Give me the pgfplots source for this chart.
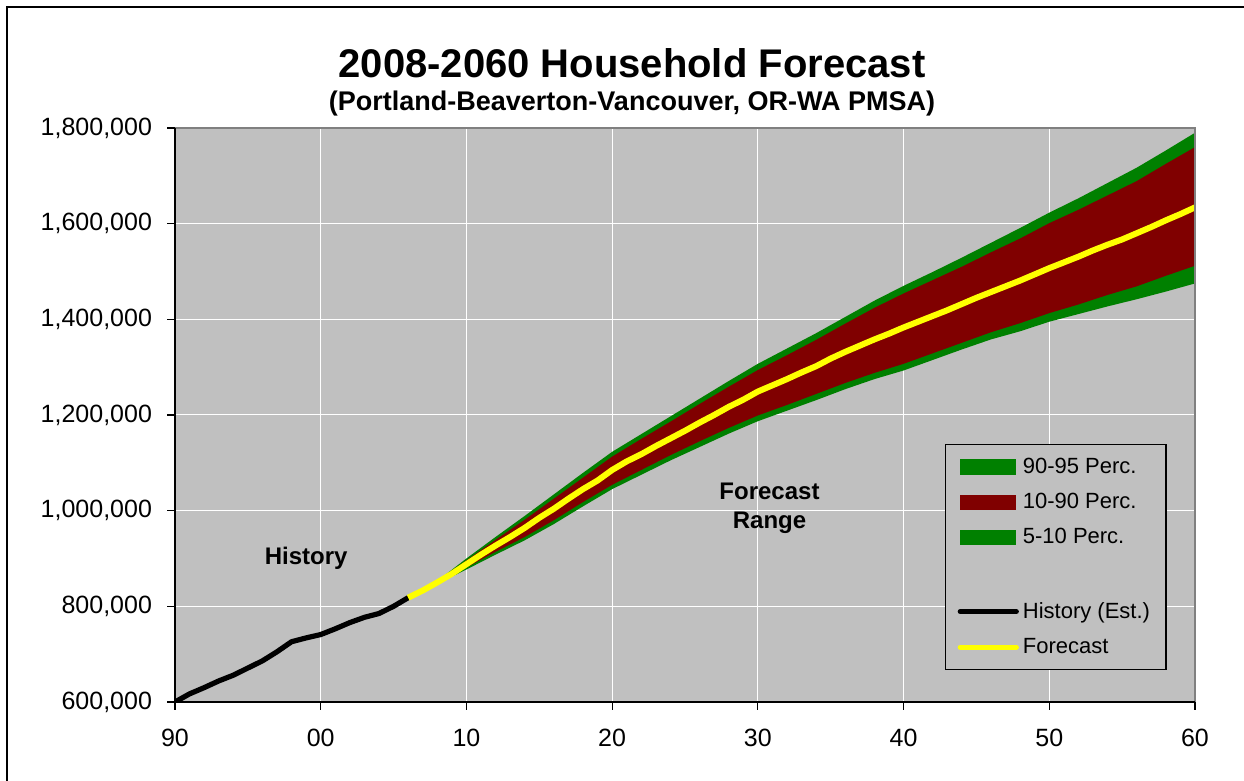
\documentclass[border=0pt]{standalone}
\usepackage{fontspec}
\setmainfont{Liberation Sans}
\usepackage{pgfplots}
\pgfplotsset{compat=1.18}
\usepackage{pgfplotstable}
\usepgfplotslibrary{fillbetween}
\definecolor{bggray}{RGB}{192,192,192}
\definecolor{bandgreen}{RGB}{0,128,0}
\definecolor{bandred}{RGB}{128,0,0}
\definecolor{fyellow}{RGB}{255,255,0}
\definecolor{framegray}{RGB}{128,128,128}

% values in thousands of households
\pgfplotstableread{
year u95 u90 l10 l5
2006 818 818 818 818
2008 853 852 848 847
2010 900 896 881 877
2012 945 939 914 908
2014 989 981 945 938
2016 1034 1025 980 972
2018 1079 1069 1018 1009
2020 1123 1113 1054 1045
2022 1160 1150 1085 1075
2024 1197 1186 1116 1105
2026 1234 1223 1145 1133
2028 1271 1259 1173 1161
2030 1307 1294 1199 1187
2032 1339 1325 1221 1209
2034 1371 1357 1244 1231
2036 1405 1391 1267 1254
2038 1439 1424 1288 1275
2040 1470 1454 1307 1293
2042 1499 1482 1329 1315
2044 1529 1510 1351 1337
2046 1560 1540 1373 1358
2048 1591 1569 1392 1375
2050 1623 1601 1413 1395
2052 1653 1629 1431 1411
2054 1685 1659 1451 1427
2056 1717 1689 1469 1442
2058 1753 1725 1491 1458
2060 1790 1760 1512 1475
}\bandtab

\pgfplotstableread{
year hh
1990 600
1991 617
1992 630
1993 644
1994 656
1995 671
1996 686
1997 705
1998 726
1999 734
2000 741
2001 753
2002 766
2003 777
2004 785
2005 800
2006 818
}\histtab

\pgfplotstableread{
year hh
2006 818
2007 833
2008 850
2009 868
2010 888
2011 908
2012 927
2013 945
2014 964
2015 985
2016 1004
2017 1025
2018 1045
2019 1063
2020 1085
2021 1103
2022 1118
2023 1135
2024 1151
2025 1167
2026 1184
2027 1200
2028 1217
2029 1232
2030 1249
2031 1262
2032 1275
2033 1289
2034 1302
2035 1318
2036 1332
2037 1345
2038 1358
2039 1370
2040 1383
2041 1395
2042 1407
2043 1419
2044 1432
2045 1445
2046 1457
2047 1469
2048 1481
2049 1494
2050 1507
2051 1519
2052 1531
2053 1544
2054 1556
2055 1567
2056 1580
2057 1593
2058 1607
2059 1620
2060 1634
}\foretab

\begin{document}
\begin{tikzpicture}
\begin{axis}[
  name=ax,
  at={(0pt,0pt)}, anchor=south west,
  scale only axis, width=510pt, height=287pt,
  xmin=1990, xmax=2060, ymin=600, ymax=1800,
  xtick={1990,2000,...,2060},
  xticklabels={90,00,10,20,30,40,50,60},
  ytick={600,800,...,1800},
  yticklabel={\pgfmathprintnumber[fixed,precision=0,1000 sep={,}]{\tick},000},
  ticklabel style={font=\fontsize{12.5}{15}\selectfont},
  xticklabel style={yshift=-6pt},
  yticklabel style={xshift=-4pt},
  /pgf/number format/assume math mode=true,
  tick align=outside, major tick length=4pt,
  xtick pos=bottom, ytick pos=left,
  tick style={black, line width=0.6pt},
  grid=major, major grid style={white, line width=0.5pt},
  axis background/.style={fill=bggray},
  axis line style={draw=none},
  legend cell align=left,
  legend style={at={(rel axis cs:0.755,0.449)}, anchor=north west,
    fill=bggray, draw=black, line width=0.6pt,
    inner xsep=6pt, inner ysep=4.5pt, row sep=4.5pt,
    font=\fontsize{11}{13}\selectfont},
]
\addplot[draw=none, name path=u95, forget plot] table[x=year, y=u95] {\bandtab};
\addplot[draw=none, name path=l5, forget plot] table[x=year, y=l5] {\bandtab};
\addplot[draw=none, name path=u90, forget plot] table[x=year, y=u90] {\bandtab};
\addplot[draw=none, name path=l10, forget plot] table[x=year, y=l10] {\bandtab};
\addplot[fill=bandgreen, draw=none, forget plot] fill between[of=u95 and l5];
\addplot[fill=bandred, draw=none, forget plot] fill between[of=u90 and l10];
\addplot[black, line width=2.6pt, line join=round, line cap=round, forget plot] table[x=year, y=hh] {\histtab};
\addplot[fyellow, line width=3pt, line join=round, forget plot] table[x=year, y=hh] {\foretab};

\addlegendimage{legend image code/.code={\fill[bandgreen] (2.5pt,-3.5pt) rectangle (30pt,3.5pt);}}
\addlegendentry{90-95 Perc.}
\addlegendimage{legend image code/.code={\fill[bandred] (2.5pt,-3.5pt) rectangle (30pt,3.5pt);}}
\addlegendentry{10-90 Perc.}
\addlegendimage{legend image code/.code={\fill[bandgreen] (2.5pt,-3.5pt) rectangle (30pt,3.5pt);}}
\addlegendentry{5-10 Perc.}
\addlegendimage{legend image code/.code={\path[draw=none, fill=none] (2.5pt,-3.5pt) rectangle (30pt,3.5pt);}}
\addlegendentry{\strut}
\addlegendimage{legend image code/.code={\draw[black, line width=2.6pt, line cap=round] (2.5pt,0pt) -- (30.5pt,0pt);}}
\addlegendentry{History (Est.)}
\addlegendimage{legend image code/.code={\draw[fyellow, line width=2.6pt, line cap=round] (2.5pt,0pt) -- (30.5pt,0pt);}}
\addlegendentry{Forecast}

\node[font=\bfseries\fontsize{12}{14.5}\selectfont] at (axis cs:1999,901) {History};
\node[font=\bfseries\fontsize{12}{14.5}\selectfont, align=center] at (axis cs:2030.8,1006) {Forecast\\Range};
\end{axis}
\draw[framegray, line width=0.7pt] (ax.north west) -- (ax.north east) -- (ax.south east);
\draw[black, line width=0.7pt] (ax.north west) -- (ax.south west) -- (ax.south east);
\node[font=\bfseries\fontsize{20}{24}\selectfont] at (228.5pt,319.5pt) {2008-2060 Household Forecast};
\node[font=\bfseries\fontsize{13.5}{16}\selectfont] at (228.5pt,299pt) {(Portland-Beaverton-Vancouver, OR-WA PMSA)};
\draw[black, line width=0.7pt] (-84pt,-45pt) -- (-84pt,347.5pt) -- (540pt,347.5pt);
\pgfresetboundingbox
\path[use as bounding box] (-87.5pt,-39.5pt) rectangle (534.5pt,351pt);
\end{tikzpicture}
\end{document}
